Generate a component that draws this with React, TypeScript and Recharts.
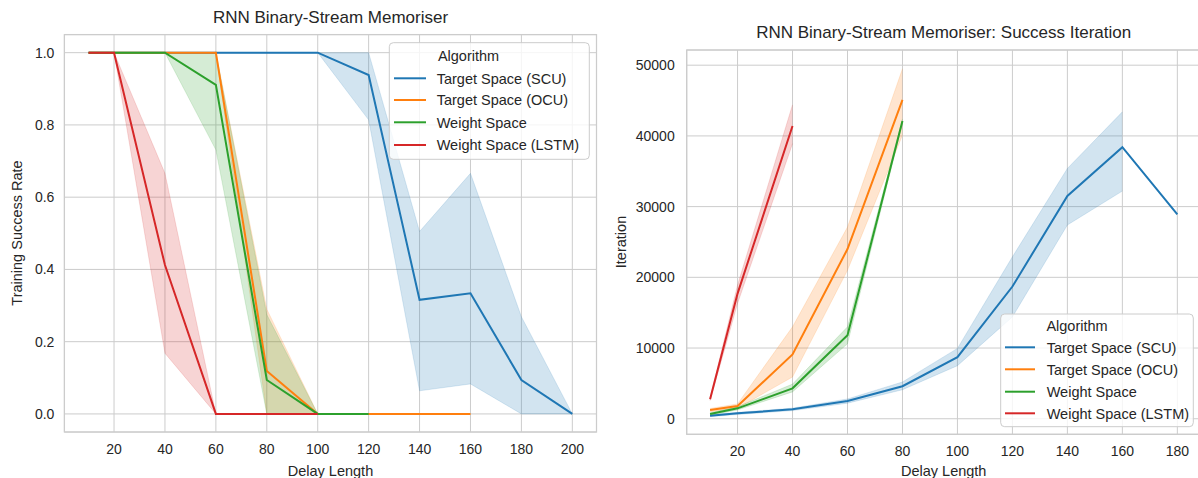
import React from "react";
import { ComposedChart, Line, Area, XAxis, YAxis, CartesianGrid } from "recharts";

const FONT = '"Liberation Sans", Arial, Helvetica, sans-serif';
const INK = "#262626";
const GRID = "#cccccc";

const seriesNames = ["Target Space (SCU)", "Target Space (OCU)", "Weight Space", "Weight Space (LSTM)"];
const seriesKeys = ["scu", "ocu", "ws", "lstm"];
const seriesColors = ["#1f77b4", "#ff7f0e", "#2ca02c", "#d62728"];

// left: training success rate
const rateDelays = [10, 20, 40, 60, 80, 100, 120, 140, 160, 180, 200];
const rateScu = [1, 1, 1, 1, 1, 1, 0.938, 0.316, 0.334, 0.094, 0];
const rateScuLo = [1, 1, 1, 1, 1, 1, 0.814, 0.064, 0.083, 0, 0];
const rateScuHi = [1, 1, 1, 1, 1, 1, 1, 0.505, 0.666, 0.269, 0];
const rateOcu = [1, 1, 1, 1, 0.119, 0, 0, 0, 0];
const rateOcuLo = [1, 1, 1, 1, 0, 0, 0, 0, 0];
const rateOcuHi = [1, 1, 1, 1, 0.29, 0, 0, 0, 0];
const rateWs = [1, 1, 1, 0.911, 0.094, 0, 0];
const rateWsLo = [1, 1, 1, 0.731, 0, 0, 0];
const rateWsHi = [1, 1, 1, 1, 0.275, 0, 0];
const rateLstm = [1, 1, 0.412, 0, 0, 0];
const rateLstmLo = [1, 1, 0.168, 0, 0, 0];
const rateLstmHi = [1, 1, 0.666, 0, 0, 0];
const rateXTicks = [20, 40, 60, 80, 100, 120, 140, 160, 180, 200];
const rateYTicks = [0, 0.2, 0.4, 0.6, 0.8, 1.0];

// right: success iteration (no interval at 180, single run)
const iterDelays = [10, 20, 40, 60, 80, 100, 120, 140, 160, 180];
const iterScu = [420, 760, 1330, 2500, 4600, 8700, 18700, 31500, 38400, 28900];
const iterScuLo = [300, 600, 1150, 2200, 4100, 7500, 14400, 27400, 32200];
const iterScuHi = [550, 900, 1500, 2800, 5200, 9950, 22900, 35400, 43400];
const iterOcu = [1230, 1800, 9100, 24000, 45100];
const iterOcuLo = [1000, 1500, 5900, 21000, 40100];
const iterOcuHi = [1450, 2100, 13000, 27100, 49500];
const iterWs = [660, 1470, 4300, 11800, 42100];
const iterWsLo = [500, 1250, 3800, 10600, 41800];
const iterWsHi = [850, 1700, 4900, 13000, 42400];
const iterLstm = [2750, 17700, 41400];
const iterLstmLo = [2550, 16300, 38900];
const iterLstmHi = [2950, 18900, 44400];
const iterXTicks = [20, 40, 60, 80, 100, 120, 140, 160, 180];
const iterYTicks = [0, 10000, 20000, 30000, 40000, 50000];

function buildRows(delays: number[], means: number[][], lows: number[][], highs: number[][]) {
  return delays.map((delay, i) => {
    const row: any = { delay };
    seriesKeys.forEach((k, s) => {
      const m = means[s][i];
      const lo = lows[s][i];
      const hi = highs[s][i];
      row[k] = m == null ? null : m;
      row[k + "Band"] = lo == null || hi == null ? null : [lo, hi];
    });
    return row;
  });
}

const rateRows = buildRows(
  rateDelays,
  [rateScu, rateOcu, rateWs, rateLstm],
  [rateScuLo, rateOcuLo, rateWsLo, rateLstmLo],
  [rateScuHi, rateOcuHi, rateWsHi, rateLstmHi]
);
const iterRows = buildRows(
  iterDelays,
  [iterScu, iterOcu, iterWs, iterLstm],
  [iterScuLo, iterOcuLo, iterWsLo, iterLstmLo],
  [iterScuHi, iterOcuHi, iterWsHi, iterLstmHi]
);

type PanelProps = {
  data: any[];
  left: number;
  width: number;
  margin: { top: number; right: number; bottom: number; left: number };
  yAxisWidth: number;
  xAxisHeight: number;
  xDomain: [number, number];
  yDomain: [number, number];
  xTicks: number[];
  yTicks: number[];
  yFormat: (v: number) => string;
  yTickMargin: number;
};

function Panel(p: PanelProps) {
  const tick = { fill: INK, fontSize: 14, fontFamily: FONT };
  return (
    <div style={{ position: "absolute", left: p.left, top: 0 }}>
      <ComposedChart width={p.width} height={478} data={p.data} margin={p.margin}>
        <CartesianGrid stroke={GRID} strokeWidth={1} />
        <XAxis
          type="number"
          dataKey="delay"
          scale="linear"
          domain={p.xDomain}
          allowDataOverflow
          ticks={p.xTicks}
          interval={0}
          height={p.xAxisHeight}
          axisLine={false}
          tickLine={false}
          tickSize={0}
          tickMargin={12}
          tick={tick}
        />
        <YAxis
          type="number"
          domain={p.yDomain}
          allowDataOverflow
          ticks={p.yTicks}
          interval={0}
          width={p.yAxisWidth}
          axisLine={false}
          tickLine={false}
          tickSize={0}
          tickMargin={p.yTickMargin}
          tick={tick}
          tickFormatter={p.yFormat}
        />
        {seriesKeys.map((k, i) => (
          <Area
            key={k + "Band"}
            dataKey={k + "Band"}
            type="linear"
            fill={seriesColors[i]}
            fillOpacity={0.2}
            stroke={seriesColors[i]}
            strokeOpacity={0.15}
            strokeWidth={1}
            dot={false}
            activeDot={false}
            isAnimationActive={false}
          />
        ))}
        {seriesKeys.map((k, i) => (
          <Line
            key={k}
            dataKey={k}
            type="linear"
            stroke={seriesColors[i]}
            strokeWidth={2}
            dot={false}
            activeDot={false}
            isAnimationActive={false}
          />
        ))}
      </ComposedChart>
    </div>
  );
}

type LegendProps = {
  x: number;
  y: number;
  w: number;
  h: number;
  titleX: number;
  titleY: number;
  rowYs: number[];
  handleX: number;
  handleLen: number;
  textX: number;
};

function LegendBox(l: LegendProps) {
  return (
    <g fontFamily={FONT} fontSize={14.5} fill={INK}>
      <rect x={l.x} y={l.y} width={l.w} height={l.h} rx={4} fill="#ffffff" fillOpacity={0.8} stroke={GRID} strokeWidth={1} />
      <text x={l.titleX} y={l.titleY + 5.2} textAnchor="middle">Algorithm</text>
      {seriesNames.map((name, i) => (
        <g key={name}>
          <line x1={l.handleX} x2={l.handleX + l.handleLen} y1={l.rowYs[i]} y2={l.rowYs[i]} stroke={seriesColors[i]} strokeWidth={2} />
          <text x={l.textX} y={l.rowYs[i] + 5.2}>{name}</text>
        </g>
      ))}
    </g>
  );
}

export default function App() {
  return (
    <div
      style={{
        position: "absolute",
        left: 0,
        top: 0,
        width: 1198,
        height: 478,
        overflow: "hidden",
        background: "#ffffff",
      }}
    >
      <Panel
        data={rateRows}
        left={0}
        width={600}
        margin={{ top: 34.6, right: 3.5, bottom: 0, left: 0 }}
        yAxisWidth={64.4}
        xAxisHeight={46}
        xDomain={[0.5, 209.5]}
        yDomain={[-0.05, 1.05]}
        xTicks={rateXTicks}
        yTicks={rateYTicks}
        yFormat={(v) => v.toFixed(1)}
        yTickMargin={10}
      />
      <Panel
        data={iterRows}
        left={600}
        width={604}
        margin={{ top: 50, right: 3.3, bottom: 0, left: 0 }}
        yAxisWidth={86.7}
        xAxisHeight={43.7}
        xDomain={[1.5, 188.5]}
        yDomain={[-2200, 52150]}
        xTicks={iterXTicks}
        yTicks={iterYTicks}
        yFormat={(v) => String(v)}
        yTickMargin={12}
      />
      <svg width={1198} height={478} style={{ position: "absolute", left: 0, top: 0, pointerEvents: "none" }}>
        <rect x={64.4} y={34.6} width={532.1} height={397.4} fill="none" stroke={GRID} strokeWidth={1.25} />
        <rect x={686.7} y={50} width={514} height={384.3} fill="none" stroke={GRID} strokeWidth={1.25} />
        <g fontFamily={FONT} fill={INK}>
          <text x={330.5} y={22.8} fontSize={17} textAnchor="middle">RNN Binary-Stream Memoriser</text>
          <text x={943.7} y={37.6} fontSize={17} textAnchor="middle">RNN Binary-Stream Memoriser: Success Iteration</text>
          <text x={330.5} y={475.5} fontSize={14.5} textAnchor="middle">Delay Length</text>
          <text x={943.7} y={476} fontSize={14.5} textAnchor="middle">Delay Length</text>
          <text x={21.5} y={233} fontSize={14.5} textAnchor="middle" transform="rotate(-90 21.5 233)">Training Success Rate</text>
          <text x={625.5} y={242} fontSize={14.5} textAnchor="middle" transform="rotate(-90 625.5 242)">Iteration</text>
        </g>
        <LegendBox x={389.3} y={42.7} w={200} h={116.6} titleX={468.5} titleY={56} rowYs={[78.3, 100, 122.3, 145]} handleX={394} handleLen={32} textX={436.7} />
        <LegendBox x={1000.7} y={314} w={192.6} h={112.7} titleX={1077} titleY={326} rowYs={[347.3, 369.3, 391.7, 413.3]} handleX={1005} handleLen={30} textX={1046.7} />
      </svg>
    </div>
  );
}
